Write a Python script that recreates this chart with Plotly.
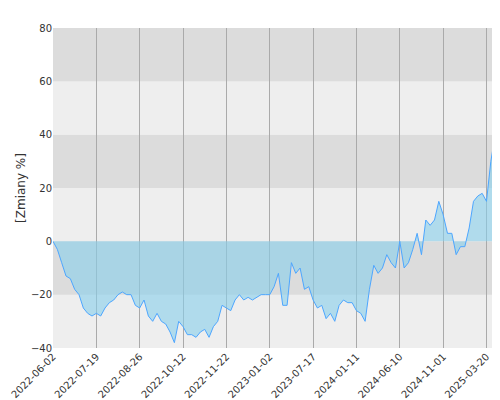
import plotly.graph_objects as go

tick_labels = ["2022-06-02", "2022-07-19", "2022-08-26", "2022-10-12", "2022-11-22",
               "2023-01-02", "2023-07-17", "2024-01-11", "2024-06-10", "2024-11-01", "2025-03-20"]

values = [0, -3, -8, -13, -14, -18, -20, -25, -27, -28,
          -27, -28, -25, -23, -22, -20, -19, -20, -20, -24,
          -25, -22, -28, -30, -27, -30, -31, -34, -38, -30,
          -32, -35, -35, -36, -34, -33, -36, -32, -30, -24,
          -25, -26, -22, -20, -22, -21, -22, -21, -20, -20,
          -20, -17, -12, -24, -24, -8, -12, -10, -18, -17,
          -22, -25, -24, -29, -27, -30, -24, -22, -23, -23,
          -26, -27, -30, -18, -9, -12, -10, -5, -8, -10,
          0, -10, -8, -3, 3, -5, 8, 6, 8, 15,
          10, 3, 3, -5, -2, -2, 5, 15, 17, 18,
          15, 30, 40, 58, 62]

fig = go.Figure()

# alternating horizontal bands
for i, y0 in enumerate(range(-40, 80, 20)):
    fig.add_shape(type="rect", xref="paper", yref="y", x0=0, x1=1, y0=y0, y1=y0 + 20,
                  fillcolor="#dcdcdc" if i % 2 else "#eeeeee", line_width=0, layer="below")

fig.add_trace(go.Scatter(x=list(range(len(values))), y=values, mode="lines",
                         fill="tozeroy", fillcolor="rgba(135,206,235,0.6)",
                         line=dict(color="#4da6ff", width=1)))

fig.update_layout(
    width=500, height=400, showlegend=False,
    margin=dict(l=45, r=2, t=20, b=60, autoexpand=False),
    plot_bgcolor="#eeeeee", paper_bgcolor="white",
    font=dict(family="DejaVu Sans", size=10, color="#333"),
    xaxis=dict(range=[0, len(values) - 0.5], tickvals=list(range(0, 101, 10)),
               ticktext=tick_labels, tickangle=-45, showgrid=True, gridcolor="#aaaaaa",
               zeroline=False, showline=False, ticks="", automargin=False),
    yaxis=dict(range=[-40, 80], dtick=20, showgrid=False, zeroline=False, automargin=False,
               title=dict(text="[Zmiany %]", standoff=2), ticks=""),
)

fig.write_html("out.html")
